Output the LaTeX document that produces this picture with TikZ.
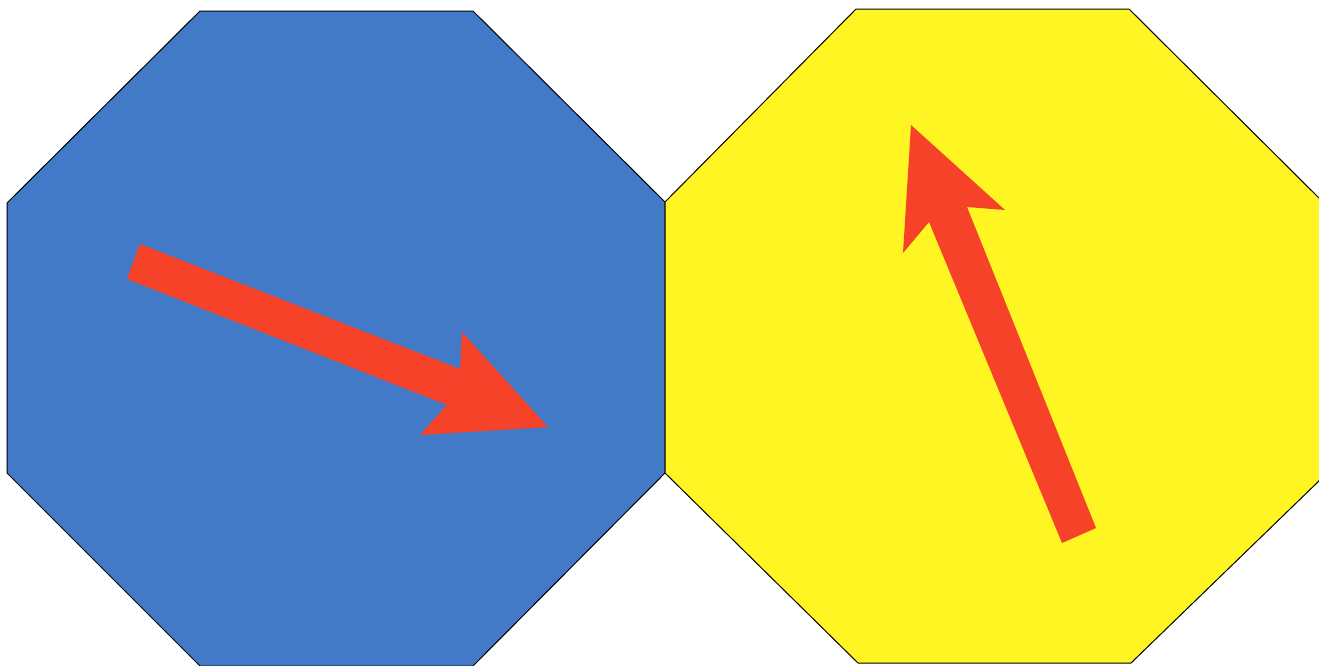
\documentclass[tikz,border=0pt]{standalone}
\definecolor{octblue}{RGB}{66,122,200}
\definecolor{octyellow}{RGB}{255,245,35}
\definecolor{arrowred}{RGB}{245,66,40}
\tikzset{
  octa/.style={draw=black, line width=1pt, line join=miter},
  redarrow/.style={fill=arrowred, draw=none},
}
\begin{document}
\begin{tikzpicture}[x=1pt,y=-1pt]
\useasboundingbox (0,0) rectangle (1319,665);
\clip (0,0) rectangle (1319,665);
\fill[white] (0,0) rectangle (1319,665);
% blue octagon
\path[octa, fill=octblue] (200,11) -- (473,11) -- (665,202) -- (665,473) -- (473,666) -- (200,666) -- (7,473) -- (7,203) -- cycle;
% yellow octagon
\path[octa, fill=octyellow] (856,9) -- (1129,9) -- (1322,201) -- (1322,478) -- (1131,663) -- (858,663) -- (665,473) -- (665,202) -- cycle;
% red arrow on blue
\path[redarrow] (140,244) -- (460,369) -- (462,332) -- (548,427) -- (420,435) -- (447,405) -- (127,279) -- cycle;
% red arrow on yellow
\path[redarrow] (1096,528) -- (967,207) -- (1005,210) -- (911,125) -- (903,253) -- (929,222) -- (1062,543) -- cycle;
\end{tikzpicture}
\end{document}
